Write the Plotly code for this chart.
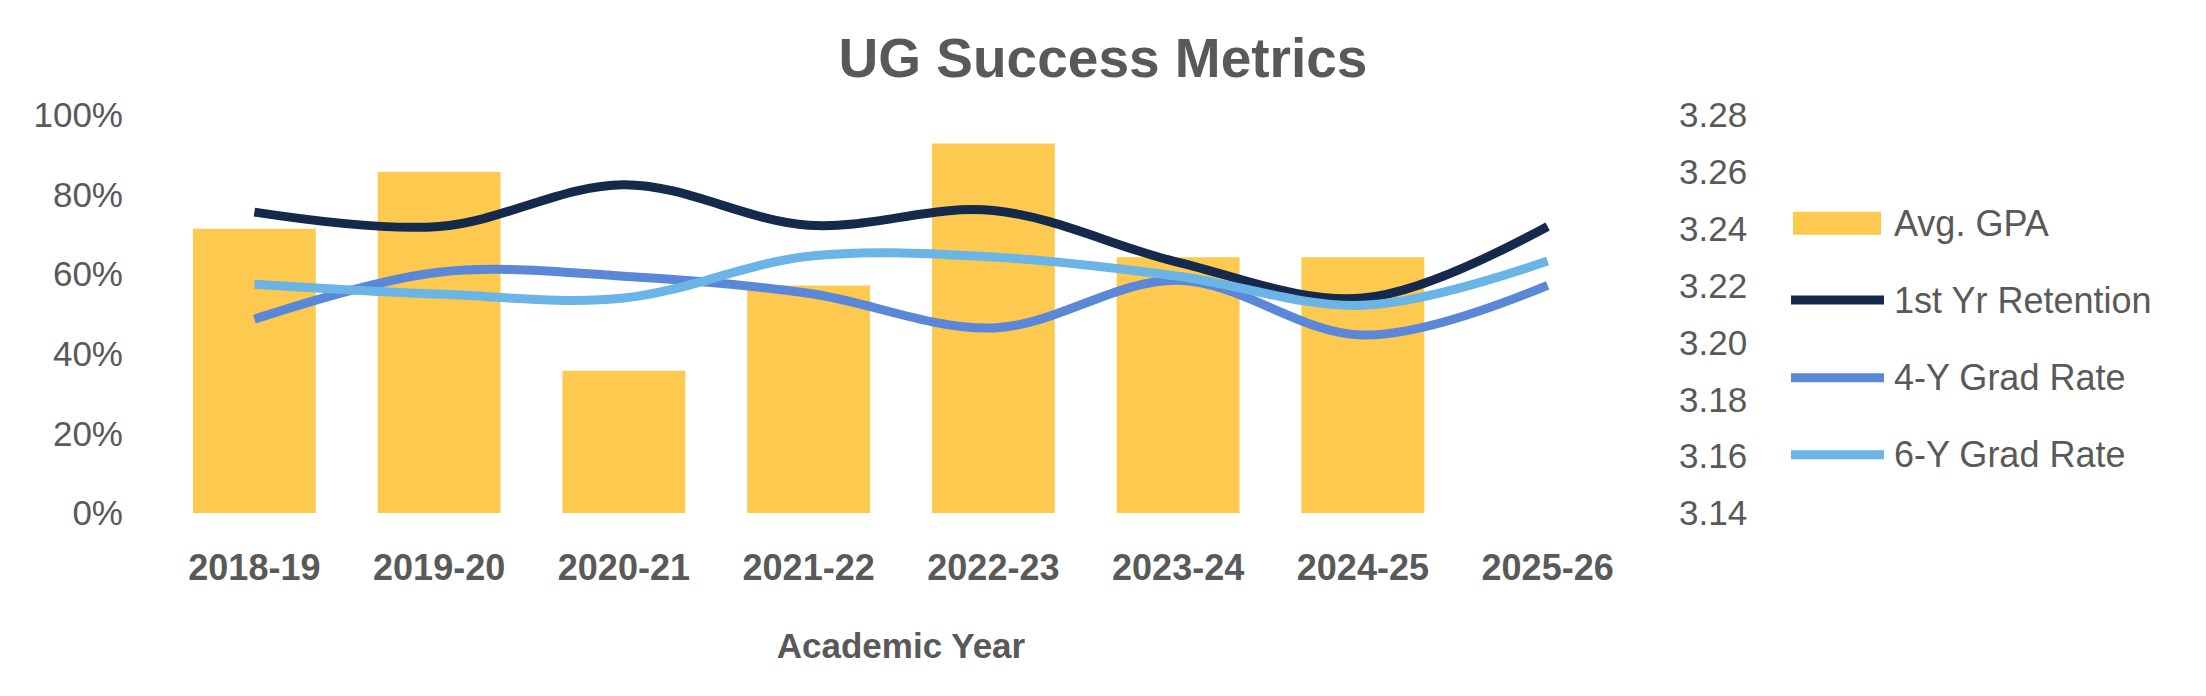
import plotly.graph_objects as go

# ---- data ----
years = ["2018-19", "2019-20", "2020-21", "2021-22", "2022-23", "2023-24", "2024-25", "2025-26"]
avg_gpa = [3.24, 3.26, 3.19, 3.22, 3.27, 3.23, 3.23, None]
retention_1st_yr = [0.756, 0.720, 0.825, 0.723, 0.760, 0.630, 0.540, 0.720]
grad_rate_4y = [0.487, 0.605, 0.595, 0.552, 0.465, 0.585, 0.447, 0.572]
grad_rate_6y = [0.575, 0.550, 0.540, 0.645, 0.643, 0.595, 0.522, 0.633]

series_names = ["Avg. GPA", "1st Yr Retention", "4-Y Grad Rate", "6-Y Grad Rate"]
series_colors = ["#FDCA4F", "#14294B", "#5B87D9", "#6AB4E6"]

TEXT = "#595959"
FONT = "Liberation Sans, Arial, sans-serif"

W, H = 2206, 696
PL, PR, PT, PB = 162, 1640, 114.5, 513.5  # plot area in pixels


def px_x(x):
    return (x - PL) / (PR - PL)


def px_y(y):
    return (PB - y) / (PB - PT)


fig = go.Figure()

# bars on primary axis (drawn underneath)
fig.add_trace(go.Bar(
    x=years, y=avg_gpa, name=series_names[0], marker=dict(color=series_colors[0], line=dict(width=0)),
    yaxis="y", showlegend=False,
))

line_data = [retention_1st_yr, grad_rate_4y, grad_rate_6y]
for name, col, vals in zip(series_names[1:], series_colors[1:], line_data):
    fig.add_trace(go.Scatter(
        x=years, y=vals, name=name, mode="lines", yaxis="y2",
        line=dict(color=col, width=9, shape="spline", smoothing=1.0),
        showlegend=False,
    ))

# ---- custom legend (wide swatches like the original) ----
shapes = []
annotations = []
legend_y = [223, 300, 378, 455]
for i, (name, col) in enumerate(zip(series_names, series_colors)):
    yc = legend_y[i]
    if i == 0:
        shapes.append(dict(type="rect", xref="paper", yref="paper",
                           x0=px_x(1793), x1=px_x(1881), y0=px_y(yc + 11.5), y1=px_y(yc - 11.5),
                           fillcolor=col, line=dict(width=0)))
    else:
        shapes.append(dict(type="line", xref="paper", yref="paper",
                           x0=px_x(1791), x1=px_x(1884), y0=px_y(yc), y1=px_y(yc),
                           line=dict(color=col, width=9)))
    annotations.append(dict(text=name, xref="paper", yref="paper", x=px_x(1892), y=px_y(yc),
                            xanchor="left", yanchor="middle", showarrow=False,
                            font=dict(family=FONT, size=36, color=TEXT)))

fig.update_layout(
    width=W, height=H,
    margin=dict(l=PL, r=W - PR, t=PT, b=H - PB, pad=0),
    paper_bgcolor="white", plot_bgcolor="white",
    bargap=0.335,
    title=dict(text="<b>UG Success Metrics</b>", x=0.5, xanchor="center", xref="container",
               y=1 - 58 / H, yanchor="middle", yref="container",
               font=dict(family=FONT, size=55, color=TEXT)),
    xaxis=dict(
        type="category", showgrid=False, zeroline=False, showline=False,
        tickfont=dict(family=FONT, size=36, color=TEXT, weight="bold"),
        ticklabelstandoff=30,
        title=dict(text="<b>Academic Year</b>", font=dict(family=FONT, size=35, color=TEXT), standoff=46),
    ),
    yaxis=dict(
        side="right", range=[3.14, 3.28], dtick=0.02, tick0=3.14, tickformat=".2f",
        showgrid=False, zeroline=False, showline=False,
        tickfont=dict(family=FONT, size=35, color=TEXT),
        ticklabelstandoff=38,
    ),
    yaxis2=dict(
        side="left", overlaying="y", range=[0, 1], dtick=0.2, tick0=0, tickformat=".0%",
        showgrid=False, zeroline=False, showline=False,
        tickfont=dict(family=FONT, size=35, color=TEXT),
        ticklabelstandoff=38,
    ),
    shapes=shapes,
    annotations=annotations,
)

fig.write_html("out.html")
